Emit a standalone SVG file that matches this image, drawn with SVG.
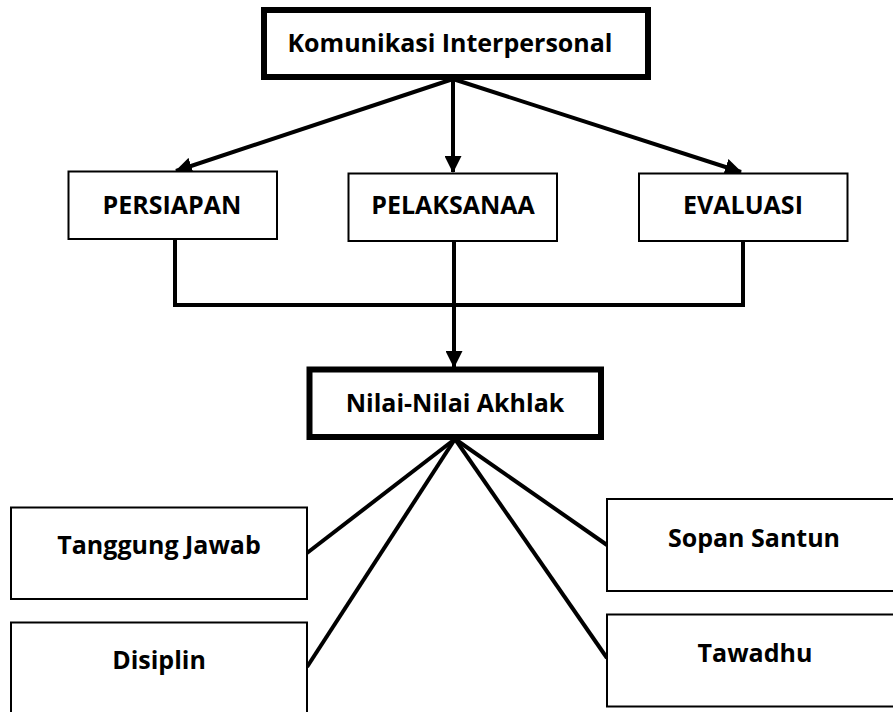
<svg xmlns="http://www.w3.org/2000/svg" width="893" height="712" viewBox="0 0 893 712">
<style>
.bg{fill:#fff}
.thin{fill:#fff;stroke:#000;stroke-width:2}
.thick{fill:#fff;stroke:#000;stroke-width:6}
.lbl{font-family:"Open Sans","Noto Sans",sans-serif;font-weight:bold;font-size:25px;fill:#000;text-anchor:middle}
.conn{fill:none;stroke:#000;stroke-width:4}
</style>
<defs>
<marker id="arr" viewBox="0 0 17 17" refX="16" refY="8.5" markerWidth="17" markerHeight="17" markerUnits="userSpaceOnUse" orient="auto">
<path d="M0,0 L17,8.5 L0,17 z" fill="#000"/>
</marker>
</defs>
<rect class="bg" x="0" y="0" width="893" height="712"/>
<g id="connectors">
<line class="conn" x1="453" y1="79" x2="176" y2="171" marker-end="url(#arr)"/>
<line class="conn" x1="453" y1="79" x2="453" y2="172" marker-end="url(#arr)"/>
<line class="conn" x1="453" y1="79" x2="741" y2="172" marker-end="url(#arr)"/>
<polyline class="conn" points="175,239 175,305 743,305 743,241"/>
<line class="conn" x1="454" y1="241" x2="454" y2="367" marker-end="url(#arr)"/>
<line class="conn" x1="455" y1="439" x2="307" y2="553"/>
<line class="conn" x1="455" y1="439" x2="307" y2="667"/>
<line class="conn" x1="455" y1="439" x2="607" y2="545"/>
<line class="conn" x1="455" y1="439" x2="607" y2="658"/>
</g>
<g id="komunikasi">
<rect class="thick" x="264" y="10" width="384" height="67"/>
<text class="lbl" x="450" y="52">Komunikasi Interpersonal</text>
</g>
<g id="persiapan">
<rect class="thin" x="68.5" y="171.5" width="208.5" height="67.5"/>
<text class="lbl" x="172" y="214">PERSIAPAN</text>
</g>
<g id="pelaksanaa">
<rect class="thin" x="348.5" y="173.5" width="208.5" height="67.5"/>
<text class="lbl" x="453" y="214">PELAKSANAA</text>
</g>
<g id="evaluasi">
<rect class="thin" x="639" y="173.5" width="208.5" height="67.5"/>
<text class="lbl" x="743" y="214">EVALUASI</text>
</g>
<g id="nilai">
<rect class="thick" x="309.5" y="369.5" width="291.5" height="67.5"/>
<text class="lbl" x="455" y="412">Nilai-Nilai Akhlak</text>
</g>
<g id="tanggung-jawab">
<rect class="thin" x="11" y="507.5" width="296" height="91.5"/>
<text class="lbl" x="159" y="554">Tanggung Jawab</text>
</g>
<g id="disiplin">
<rect class="thin" x="11" y="622.5" width="296" height="100"/>
<text class="lbl" x="159" y="669">Disiplin</text>
</g>
<g id="sopan-santun">
<rect class="thin" x="607" y="499" width="300" height="92"/>
<text class="lbl" x="754" y="547">Sopan Santun</text>
</g>
<g id="tawadhu">
<rect class="thin" x="607" y="614.5" width="300" height="92"/>
<text class="lbl" x="755" y="662">Tawadhu</text>
</g>
</svg>
